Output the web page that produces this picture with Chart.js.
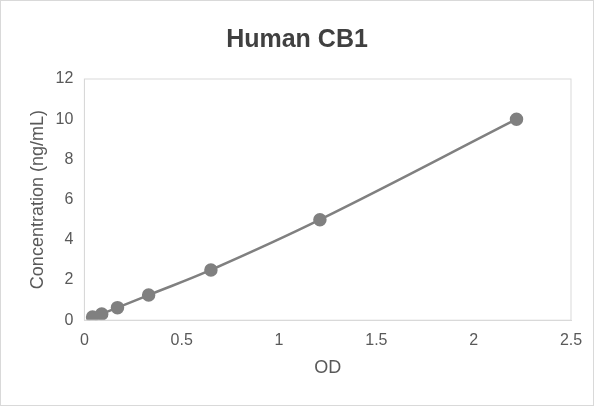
<!DOCTYPE html>
<html><head><meta charset="utf-8">
<script src="https://cdn.jsdelivr.net/npm/chart.js@4"></script>
<style>
html,body{margin:0;padding:0;background:#fff;}
#wrap{position:absolute;left:0;top:0;width:592px;height:404px;border:1px solid #d9d9d9;}
</style></head><body>
<div id="wrap"><canvas id="c" width="592" height="404"></canvas></div>
<script>
const od = [0.042, 0.089, 0.17, 0.33, 0.65, 1.21, 2.22];
const conc = [0.156, 0.3125, 0.625, 1.25, 2.5, 5, 10];
const xTicks = [0, 0.5, 1, 1.5, 2, 2.5];

const fnt = s => ({ family: 'Liberation Sans, Arial', size: s });

new Chart(document.getElementById('c'), {
  type: 'scatter',
  data: {
    datasets: [{
      data: od.map((x, i) => ({ x: x, y: conc[i] })),
      showLine: true,
      tension: 0.4,
      borderColor: '#808080',
      backgroundColor: '#808080',
      borderWidth: 2.5,
      pointRadius: 5.5,
      pointHoverRadius: 5.5
    }]
  },
  options: {
    responsive: false,
    animation: false,
    layout: { padding: { left: 22, right: 22, top: 12, bottom: 22 } },
    plugins: {
      legend: { display: false },
      tooltip: { enabled: false },
      title: {
        display: true, text: 'Human CB1', color: '#404040',
        font: { family: 'Liberation Sans, Arial', size: 25, weight: 'bold' },
        padding: { top: 12, bottom: 24 }
      }
    },
    scales: {
      x: {
        type: 'linear', min: 0, max: 2.5,
        afterBuildTicks: a => { a.ticks = xTicks.map(v => ({ value: v })); },
        grid: { display: false },
        border: { color: '#d9d9d9' },
        ticks: { color: '#595959', font: fnt(16), callback: v => String(v) },
        title: { display: true, text: 'OD', color: '#595959', font: fnt(18) }
      },
      y: {
        min: 0, max: 12,
        grid: { display: false },
        border: { color: '#d9d9d9' },
        ticks: { stepSize: 2, color: '#595959', font: fnt(16) },
        title: { display: true, text: 'Concentration (ng/mL)', color: '#595959', font: fnt(18) }
      }
    }
  },
  plugins: [{
    id: 'frame',
    afterDraw(chart) {
      const { ctx, chartArea: a } = chart;
      ctx.save();
      ctx.strokeStyle = '#d9d9d9';
      ctx.lineWidth = 1;
      ctx.strokeRect(a.left, a.top, a.right - a.left, a.bottom - a.top);
      ctx.restore();
    }
  }]
});
</script>
</body></html>
